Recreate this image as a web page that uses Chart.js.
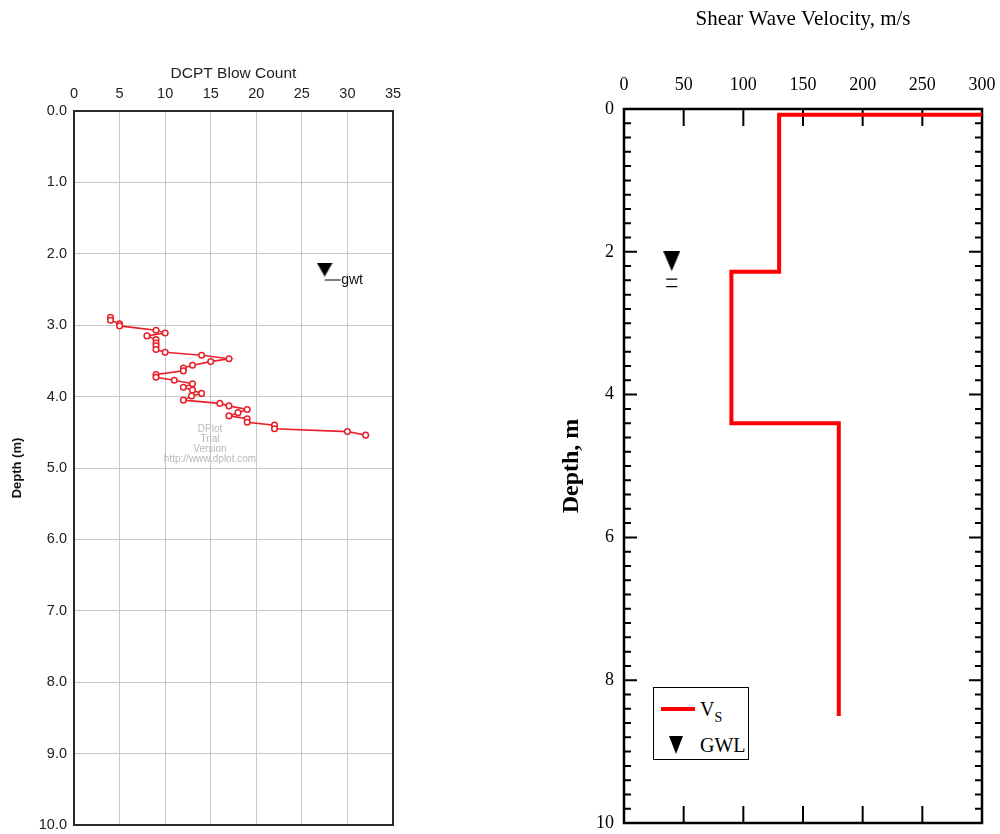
<!DOCTYPE html>
<html>
<head>
<meta charset="utf-8">
<script src="https://cdn.jsdelivr.net/npm/chart.js@4.4.0/dist/chart.umd.min.js"></script>
<style>
    body { margin: 0; background: #fff; }
    canvas { position: absolute; top: 0; }
    #left { left: 0; }
    #right { left: 500px; }
    #legend {
        position: absolute; left: 653px; top: 687px; width: 94px; height: 71px;
        border: 1.5px solid #000; background: #fff;
        font-family: 'Liberation Serif', serif; font-size: 20px; color: #000;
    }
    #legend .txt { position: absolute; left: 46px; line-height: 20px; white-space: nowrap; }
</style>
</head>
<body>
<canvas id="left" width="500" height="834"></canvas>
<canvas id="right" width="500" height="834"></canvas>
<div id="legend">
    <div style="position:absolute; left:7px; top:19px; width:34px; height:4px; background:#ff0000;"></div>
    <div class="txt" style="top:11px;">V<span style="font-size:14px; position:relative; top:6px;">S</span></div>
    <div style="position:absolute; left:15px; top:48px; width:0; height:0; border-left:7.5px solid transparent; border-right:7.5px solid transparent; border-top:18px solid #000;"></div>
    <div class="txt" style="top:47px;">GWL</div>
</div>
<script>
// DCPT blow count profile (left)
const dcptBlow = [4, 4, 5, 5, 9, 10, 8, 9, 9, 9, 9, 10, 14, 17, 15, 13, 12, 12, 9, 9,
    11, 13, 12, 13, 14, 12.9, 12, 16, 17, 19, 18, 17, 19, 19, 22, 22, 30, 32];
const dcptDepth = [2.89, 2.93, 2.98, 3.01, 3.07, 3.11, 3.15, 3.2, 3.25, 3.29, 3.34, 3.38, 3.42, 3.47, 3.51, 3.56, 3.6, 3.64, 3.69, 3.73,
    3.77, 3.82, 3.87, 3.91, 3.955, 3.99, 4.05, 4.095, 4.13, 4.18, 4.225, 4.27, 4.31, 4.36, 4.4, 4.45, 4.49, 4.54];
const gwtBlow = [27.5];
const gwtDepth = [2.22];

// shear wave velocity profile (right)
const vsVelocity = [300, 130, 130, 90, 90, 180, 180];
const vsDepth = [0.08, 0.08, 2.28, 2.28, 4.4, 4.4, 8.5];
const gwlVelocity = [40];
const gwlDepth = [2.13];

const watermark = ['DPlot', 'Trial', 'Version', 'http://www.dplot.com'];

function triangle(w, h) {
    const c = document.createElement('canvas');
    c.width = w; c.height = h;
    const g = c.getContext('2d');
    g.fillStyle = '#000';
    g.beginPath();
    g.moveTo(0, 0); g.lineTo(w, 0); g.lineTo(w / 2, h);
    g.closePath();
    g.fill();
    return c;
}

const toPoints = (xs, ys) => xs.map((v, i) => ({ x: v, y: ys[i] }));

// keep the plot box where layout.padding puts it (no extra room for overhanging labels)
function fixSize(prop, size) {
    return scale => {
        scale[prop] = size;
        scale.paddingTop = scale.paddingBottom = scale.paddingLeft = scale.paddingRight = 0;
    };
}

const leftDecor = {
    id: 'leftDecor',
    beforeDatasetsDraw(chart) {
        const { ctx, chartArea: a } = chart;
        ctx.save();
        ctx.strokeStyle = '#2a2a2a';
        ctx.lineWidth = 2;
        ctx.strokeRect(a.left, a.top, a.right - a.left, a.bottom - a.top);
        ctx.fillStyle = '#b8b8b8';
        ctx.font = '10px "Liberation Sans"';
        ctx.textAlign = 'center';
        ctx.textBaseline = 'middle';
        watermark.forEach((t, i) => ctx.fillText(t, 210, 429 + i * 10));
        ctx.restore();
    },
    afterDatasetsDraw(chart) {
        const { ctx } = chart;
        const p = chart.getDatasetMeta(1).data[0];
        ctx.save();
        ctx.strokeStyle = '#000';
        ctx.lineWidth = 1;
        ctx.beginPath();
        ctx.moveTo(p.x, p.y + 10.5);
        ctx.lineTo(p.x + 16, p.y + 10.5);
        ctx.stroke();
        ctx.fillStyle = '#111';
        ctx.font = '14px "Liberation Sans"';
        ctx.textBaseline = 'alphabetic';
        ctx.fillText('gwt', p.x + 16.5, p.y + 14);
        ctx.restore();
    }
};

new Chart(document.getElementById('left').getContext('2d'), {
    type: 'scatter',
    data: {
        datasets: [{
            data: toPoints(dcptBlow, dcptDepth),
            showLine: true,
            borderColor: '#e8202a',
            borderWidth: 1.6,
            pointRadius: 2.8,
            pointBorderWidth: 1.5,
            pointBorderColor: '#e8202a',
            pointBackgroundColor: '#fff'
        },
        {
            data: toPoints(gwtBlow, gwtDepth),
            pointStyle: triangle(16, 14),
            pointRadius: 8
        }]
    },
    options: {
        responsive: false,
        animation: false,
        layout: { padding: { top: 0, left: 0, right: 107, bottom: 8 } },
        plugins: { legend: { display: false }, tooltip: { enabled: false } },
        scales: {
            x: {
                position: 'top', min: 0, max: 35,
                ticks: { stepSize: 5, padding: 8, color: '#222', font: { family: 'Liberation Sans', size: 14.5 } },
                grid: { color: '#c8c8c8', drawTicks: false },
                border: { display: false },
                title: { display: true, text: 'DCPT Blow Count', color: '#222', padding: { top: 64, bottom: 0 },
                    font: { family: 'Liberation Sans', size: 15.5 } },
                afterFit: fixSize('height', 111)
            },
            y: {
                reverse: true, min: 0, max: 10,
                ticks: { stepSize: 1, padding: 7, color: '#222', font: { family: 'Liberation Sans', size: 14.5 },
                    callback: v => v.toFixed(1) },
                grid: { color: '#c8c8c8', drawTicks: false },
                border: { display: false },
                title: { display: true, text: 'Depth (m)', color: '#111', padding: { top: 10, bottom: 0 },
                    font: { family: 'Liberation Sans', size: 13, weight: 'bold' } },
                afterFit: fixSize('width', 74)
            }
        }
    },
    plugins: [leftDecor]
});

const rightDecor = {
    id: 'rightDecor',
    beforeDatasetsDraw(chart) {
        const { ctx, chartArea: a, scales: { x, y } } = chart;
        ctx.save();
        ctx.strokeStyle = '#000';
        ctx.lineWidth = 2;
        ctx.beginPath();
        x.ticks.forEach(t => {
            if (t.value <= x.min || t.value >= x.max) return;
            const px = x.getPixelForValue(t.value);
            ctx.moveTo(px, a.top); ctx.lineTo(px, a.top + 17);
            ctx.moveTo(px, a.bottom); ctx.lineTo(px, a.bottom - 17);
        });
        for (let i = 1; i < 50; i++) {
            const py = y.getPixelForValue(i * 0.2);
            const len = i % 10 === 0 ? 13 : 7;
            ctx.moveTo(a.left, py); ctx.lineTo(a.left + len, py);
            ctx.moveTo(a.right, py); ctx.lineTo(a.right - len, py);
        }
        ctx.stroke();
        ctx.lineWidth = 2.5;
        ctx.strokeRect(a.left, a.top, a.right - a.left, a.bottom - a.top);
        ctx.restore();
    },
    afterDatasetsDraw(chart) {
        const { ctx } = chart;
        const p = chart.getDatasetMeta(1).data[0];
        ctx.save();
        ctx.strokeStyle = '#000';
        ctx.lineWidth = 1.2;
        ctx.beginPath();
        ctx.moveTo(p.x - 5.5, p.y + 18); ctx.lineTo(p.x + 5.5, p.y + 18);
        ctx.moveTo(p.x - 5.5, p.y + 25.5); ctx.lineTo(p.x + 5.5, p.y + 25.5);
        ctx.stroke();
        ctx.restore();
    }
};

new Chart(document.getElementById('right').getContext('2d'), {
    type: 'line',
    data: {
        datasets: [{
            data: toPoints(vsVelocity, vsDepth),
            borderColor: '#ff0000',
            borderWidth: 4,
            pointRadius: 0,
            tension: 0
        },
        {
            data: toPoints(gwlVelocity, gwlDepth),
            showLine: false,
            pointStyle: triangle(17, 20),
            pointRadius: 10
        }]
    },
    options: {
        responsive: false,
        animation: false,
        layout: { padding: { top: 0, left: 0, right: 18, bottom: 11 } },
        plugins: { legend: { display: false }, tooltip: { enabled: false } },
        scales: {
            x: {
                type: 'linear', position: 'top', min: 0, max: 300,
                ticks: { stepSize: 50, padding: 13, color: '#000', font: { family: 'Liberation Serif', size: 18 } },
                grid: { display: false, drawTicks: false },
                border: { display: false },
                title: { display: true, text: 'Shear Wave Velocity, m/s', color: '#000', padding: { top: 7, bottom: 0 },
                    font: { family: 'Liberation Serif', size: 21 } },
                afterFit: fixSize('height', 109)
            },
            y: {
                type: 'linear', reverse: true, min: 0, max: 10,
                ticks: { stepSize: 2, padding: 10, color: '#000', font: { family: 'Liberation Serif', size: 18 } },
                grid: { display: false, drawTicks: false },
                border: { display: false },
                title: { display: true, text: 'Depth, m', color: '#000', padding: { top: 57, bottom: 0 },
                    font: { family: 'Liberation Serif', size: 24, weight: 'bold' } },
                afterFit: fixSize('width', 124)
            }
        }
    },
    plugins: [rightDecor]
});
</script>
</body>
</html>
